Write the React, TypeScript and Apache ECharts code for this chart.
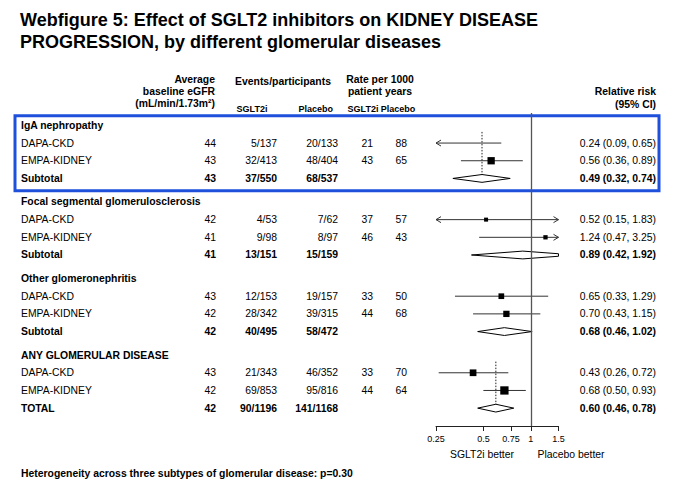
import React, { useEffect, useRef } from "react";
import * as echarts from "echarts";

// ---------- data ----------
const titleText =
  "Webfigure 5: Effect of SGLT2 inhibitors on KIDNEY DISEASE\nPROGRESSION, by different glomerular diseases";
const groupNames = [
  "IgA nephropathy",
  "Focal segmental glomerulosclerosis",
  "Other glomeronephritis",
  "ANY GLOMERULAR DISEASE",
];
const studyNames = ["DAPA-CKD", "EMPA-KIDNEY"];
const pooledNames = ["Subtotal", "Subtotal", "Subtotal", "TOTAL"];
const egfr = [
  [44, 43, 43],
  [42, 41, 41],
  [43, 42, 42],
  [43, 42, 42],
];
const sgltEvents = [
  ["5/137", "32/413", "37/550"],
  ["4/53", "9/98", "13/151"],
  ["12/153", "28/342", "40/495"],
  ["21/343", "69/853", "90/1196"],
];
const placeboEvents = [
  ["20/133", "48/404", "68/537"],
  ["7/62", "8/97", "15/159"],
  ["19/157", "39/315", "58/472"],
  ["46/352", "95/816", "141/1168"],
];
const rateSglt = [
  [21, 43],
  [37, 46],
  [33, 44],
  [33, 44],
];
const ratePlacebo = [
  [88, 65],
  [57, 43],
  [50, 68],
  [70, 64],
];
const rr = [
  [0.24, 0.56, 0.49],
  [0.52, 1.24, 0.89],
  [0.65, 0.7, 0.68],
  [0.43, 0.68, 0.6],
];
const ciLow = [
  [0.09, 0.36, 0.32],
  [0.15, 0.47, 0.42],
  [0.33, 0.43, 0.46],
  [0.26, 0.5, 0.46],
];
const ciHigh = [
  [0.65, 0.89, 0.74],
  [1.83, 3.25, 1.92],
  [1.29, 1.15, 1.02],
  [0.72, 0.93, 0.78],
];
// study weight shown as square side
const studyWeight = [
  [3, 7.3],
  [4, 4.3],
  [5.7, 6.3],
  [6.7, 8.3],
];
const pooledReference = [true, false, false, true];
const highlightedGroup = 0;
const xTicks = [0.25, 0.5, 0.75, 1, 1.5];
const xMinVal = 0.25;
const xMaxVal = 1.5;
const heterogeneityText =
  "Heterogeneity across three subtypes of glomerular disease: p=0.30";

// ---------- layout ----------
const FONT = "'Liberation Sans', Arial, Helvetica, sans-serif";
const BODY = 10.4;
const LINE = "#333";
const GROUP_GAP = 0.33;

type Row = { y: number; kind: "header" | "study" | "pooled"; g: number; i: number };
const rows: Row[] = [];
groupNames.forEach((_, g) => {
  const base = g * (4 + GROUP_GAP);
  rows.push({ y: base, kind: "header", g, i: -1 });
  rows.push({ y: base + 1, kind: "study", g, i: 0 });
  rows.push({ y: base + 2, kind: "study", g, i: 1 });
  rows.push({ y: base + 3, kind: "pooled", g, i: 2 });
});

function txt(
  x: number,
  y: number,
  text: string,
  opt: { bold?: boolean; align?: string; size?: number } = {}
) {
  const align = opt.align ?? "left";
  return {
    type: "text",
    x,
    y,
    silent: true,
    style: {
      text,
      fill: "#000",
      fontSize: opt.size ?? BODY,
      fontWeight: opt.bold ? "bold" : "normal",
      fontFamily: FONT,
      align,
      verticalAlign: "middle",
      textAlign: align,
      textVerticalAlign: "middle",
    },
  };
}

const fmt = (v: number) => v.toFixed(2);

function tableItem(params: any, api: any) {
  const row = rows[api.value(2)];
  const y = api.coord([1, row.y])[1];
  const { g, i } = row;
  const children: any[] = [];
  if (row.kind === "header") {
    children.push(txt(21, y, groupNames[g], { bold: true }));
    if (g === highlightedGroup) {
      const top = api.coord([1, row.y - 0.55])[1];
      const bot = api.coord([1, row.y + 3.7])[1];
      children.push({
        type: "rect",
        shape: { x: 15, y: top, width: 644, height: bot - top },
        style: { fill: "none", stroke: "#1e50dc", lineWidth: 3 },
      });
    }
  } else {
    const bold = row.kind === "pooled";
    const label = bold ? pooledNames[g] : studyNames[i];
    children.push(txt(21, y, label, { bold }));
    children.push(txt(216, y, String(egfr[g][i]), { bold, align: "right" }));
    children.push(txt(277, y, sgltEvents[g][i], { bold, align: "right" }));
    children.push(txt(338, y, placeboEvents[g][i], { bold, align: "right" }));
    if (!bold) {
      children.push(txt(373, y, String(rateSglt[g][i]), { align: "right" }));
      children.push(txt(407, y, String(ratePlacebo[g][i]), { align: "right" }));
    }
    children.push(
      txt(656, y, `${fmt(rr[g][i])} (${fmt(ciLow[g][i])}, ${fmt(ciHigh[g][i])})`, {
        bold,
        align: "right",
      })
    );
  }
  return { type: "group", children };
}

function forestItem(params: any, api: any) {
  const row = rows[api.value(2)];
  const { g, i } = row;
  const children: any[] = [];
  if (row.kind === "header") return { type: "group", children };
  const [xMin, y] = api.coord([xMinVal, row.y]);
  const xMax = api.coord([xMaxVal, row.y])[0];
  const px = (v: number) => api.coord([v, row.y])[0];
  const pl = px(ciLow[g][i]);
  const pr = px(ciHigh[g][i]);
  const pc = px(rr[g][i]);
  if (row.kind === "study") {
    const l = Math.max(pl, xMin);
    const r = Math.min(pr, xMax);
    children.push({
      type: "line",
      shape: { x1: l, y1: y, x2: r, y2: y },
      style: { stroke: LINE, lineWidth: 1 },
    });
    if (pl < xMin) {
      children.push({
        type: "polyline",
        shape: { points: [[xMin + 5, y - 3], [xMin, y], [xMin + 5, y + 3]] },
        style: { stroke: LINE, lineWidth: 1, fill: "none" },
      });
    }
    if (pr > xMax) {
      children.push({
        type: "polyline",
        shape: { points: [[xMax - 5, y - 3], [xMax, y], [xMax - 5, y + 3]] },
        style: { stroke: LINE, lineWidth: 1, fill: "none" },
      });
    }
    if (pc >= xMin && pc <= xMax) {
      const s = studyWeight[g][i];
      children.push({
        type: "rect",
        shape: { x: pc - s / 2, y: y - s / 2, width: s, height: s },
        style: { fill: "#000" },
      });
    }
  } else {
    if (pooledReference[g]) {
      const yTop = api.coord([1, row.y - 3 + 0.37])[1];
      children.push({
        type: "line",
        shape: { x1: pc, y1: yTop, x2: pc, y2: y },
        style: { stroke: "#222", lineWidth: 1, lineDash: [1.5, 1.5] },
      });
    }
    const h = 3.9;
    const pts: number[][] = [];
    if (pl < xMin) {
      const f = (xMin - pc) / (pl - pc);
      pts.push([xMin, y + h * (1 - f)], [xMin, y - h * (1 - f)]);
    } else pts.push([pl, y]);
    pts.push([pc, y - h]);
    if (pr > xMax) {
      const f = (xMax - pc) / (pr - pc);
      pts.push([xMax, y - h * (1 - f)], [xMax, y + h * (1 - f)]);
    } else pts.push([pr, y]);
    pts.push([pc, y + h]);
    children.push({
      type: "polygon",
      shape: { points: pts },
      style: { fill: "#fff", stroke: "#000", lineWidth: 1 },
    });
  }
  return { type: "group", children };
}

const seriesData = rows.map((r, idx) => [1, r.y, idx]);

const option: any = {
  animation: false,
  backgroundColor: "#fff",
  title: {
    text: titleText,
    left: 20,
    top: 9,
    padding: 0,
    textStyle: {
      fontSize: 18,
      fontWeight: "bold",
      fontFamily: FONT,
      color: "#000",
      lineHeight: 22,
    },
  },
  grid: { left: 436, right: 121.5, top: 113, bottom: 70 },
  xAxis: {
    type: "log",
    logBase: 2,
    position: "bottom",
    min: xMinVal,
    max: xMaxVal,
    splitLine: { show: false },
    axisLine: { show: true, onZero: false, lineStyle: { color: "#222", width: 1 } },
    axisTick: { show: true, inside: false, customValues: xTicks, length: 5, lineStyle: { color: "#222" } },
    axisLabel: {
      customValues: xTicks,
      formatter: (v: number) => String(Math.round(v * 100) / 100),
      fontSize: 9,
      fontFamily: FONT,
      color: "#000",
      margin: 8,
    },
  },
  yAxis: { type: "value", inverse: true, min: -0.7, max: 17, show: false },
  graphic: [
    txt(215, 79, "Average", { bold: true, align: "right" }),
    txt(215, 91, "baseline eGFR", { bold: true, align: "right" }),
    txt(215, 103.5, "(mL/min/1.73m²)", { bold: true, align: "right" }),
    txt(283, 81, "Events/participants", { bold: true, align: "center" }),
    txt(252, 109, "SGLT2i", { bold: true, align: "center", size: 9 }),
    txt(333, 109, "Placebo", { bold: true, align: "right", size: 9 }),
    txt(380, 79, "Rate per 1000", { bold: true, align: "center" }),
    txt(380, 91.5, "patient years", { bold: true, align: "center" }),
    txt(363, 109, "SGLT2i", { bold: true, align: "center", size: 9 }),
    txt(398, 109, "Placebo", { bold: true, align: "center", size: 9 }),
    txt(656, 91, "Relative risk", { bold: true, align: "right" }),
    txt(656, 104, "(95% CI)", { bold: true, align: "right" }),
    txt(482, 454, "SGLT2i better", { align: "center" }),
    txt(571, 454, "Placebo better", { align: "center" }),
    txt(21, 473, heterogeneityText, { bold: true }),
  ],
  series: [
    {
      type: "custom",
      name: "forest",
      z: 2,
      clip: false,
      silent: true,
      data: seriesData,
      encode: { x: 0, y: 1 },
      renderItem: forestItem,
      markLine: {
        silent: true,
        symbol: "none",
        label: { show: false },
        lineStyle: { color: "#555", width: 1.3, type: "solid" },
        data: [{ xAxis: 1 }],
      },
    },
    {
      type: "custom",
      name: "table",
      z: 3,
      clip: false,
      silent: true,
      data: seriesData,
      encode: { x: 0, y: 1 },
      renderItem: tableItem,
    },
  ],
};

export default function App() {
  const ref = useRef<HTMLDivElement>(null);
  useEffect(() => {
    const chart = echarts.init(ref.current!, undefined, { renderer: "svg" });
    chart.setOption(option);
    return () => chart.dispose();
  }, []);
  return (
    <div
      ref={ref}
      style={{ position: "fixed", left: 0, top: 0, width: 680, height: 496, background: "#fff" }}
    />
  );
}
